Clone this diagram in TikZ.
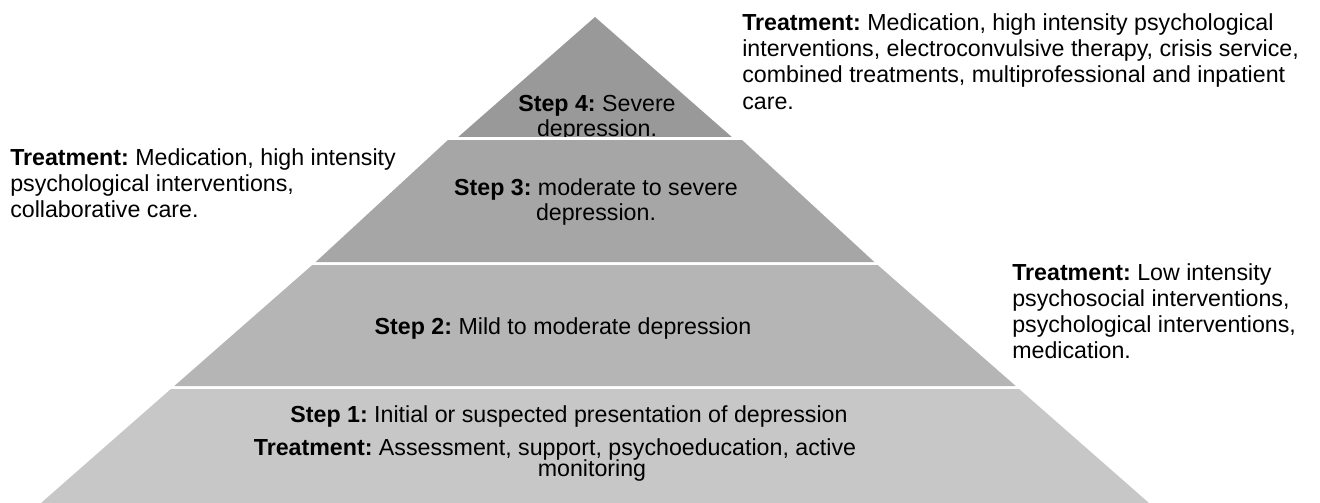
\documentclass[tikz,border=0pt]{standalone}
\usepackage{fontspec}
\setmainfont{Liberation Sans}
\frenchspacing
\begin{document}
\begin{tikzpicture}[x=0.75pt,y=-0.75pt,
  txt/.style={inner sep=0pt, anchor=base, font=\fontsize{17.4}{19.5}\selectfont},
  sidetxt/.style={inner sep=0pt, anchor=base west, font=\fontsize{17.4}{19.5}\selectfont},
  gap/.style={draw=white, line width=2.25pt}]
\useasboundingbox (0,0) rectangle (1320,503);
\definecolor{tier4}{gray}{0.60}
\definecolor{tier3}{gray}{0.65}
\definecolor{tier2}{gray}{0.71}
\definecolor{tier1}{gray}{0.78}
% tier 4 (apex)
\fill[tier4] (595,17) -- (731.8,137) -- (458.2,137) -- cycle;
\node[txt] (s4a) at (597,112) {\textbf{Step 4:} Severe};
\node[txt] (s4b) at (597,136) {depression.};
% tier 3
\fill[tier3] (451.2,137) -- (738.8,137) -- (874.3,262) -- (315.7,262) -- cycle;
\draw[gap] (440,138.5) -- (750,138.5);
\node[txt] (s3a) at (596,195) {\textbf{Step 3:} moderate to severe};
\node[txt] (s3b) at (596,220) {depression.};
% tier 2
\fill[tier2] (312.3,265) -- (877.7,265) -- (1015.7,386) -- (174.3,386) -- cycle;
\node[txt] (s2) at (563,334) {\textbf{Step 2:} Mild to moderate depression};
% tier 1
\fill[tier1] (170.9,389) -- (1019.1,389) -- (1149,503) -- (41,503) -- cycle;
\node[txt] (s1) at (569,422) {\textbf{Step 1:} Initial or suspected presentation of depression};
\node[txt] (t1a) at (555,455) {\textbf{Treatment:} Assessment, support, psychoeducation, active};
\node[txt] (t1b) at (592,476) {monitoring};
% side notes
\node[sidetxt] (n4) at (742,31) {\textbf{Treatment:} Medication, high intensity psychological};
\node[sidetxt] at (742,57) {interventions, electroconvulsive therapy, crisis service,};
\node[sidetxt] at (742,83) {combined treatments, multiprofessional and inpatient};
\node[sidetxt] at (742,109) {care.};
\node[sidetxt] (n3) at (10,165) {\textbf{Treatment:} Medication, high intensity};
\node[sidetxt] at (10,191) {psychological interventions,};
\node[sidetxt] at (10,217) {collaborative care.};
\node[sidetxt] (n2) at (1012,280) {\textbf{Treatment:} Low intensity};
\node[sidetxt] at (1012,306) {psychosocial interventions,};
\node[sidetxt] at (1012,332) {psychological interventions,};
\node[sidetxt] at (1012,358) {medication.};
\end{tikzpicture}
\end{document}
